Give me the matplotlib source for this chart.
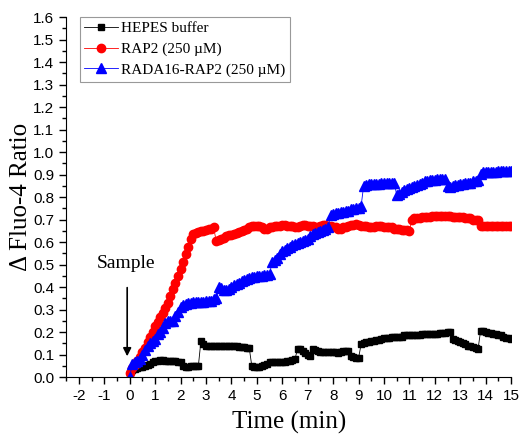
#!/usr/bin/env python
# -*- coding: utf-8 -*-

"""
Fluo-4 ratio time course for HEPES buffer, RAP2 and RADA16-RAP2.
"""

import numpy as np
import matplotlib
matplotlib.use('Agg')
from matplotlib import pyplot as plt

# data (sampled every 0.1 min, 0 - 15 min)
time = np.round(np.arange(0, 151) * 0.1, 1)

hepes = [
    0.02, 0.03, 0.035, 0.04, 0.045, 0.045, 0.05, 0.055, 0.06, 0.065,
    0.07, 0.07, 0.075, 0.075, 0.07, 0.07, 0.07, 0.07, 0.07, 0.065,
    0.065, 0.05, 0.045, 0.045, 0.05, 0.05, 0.05, 0.05, 0.16, 0.145,
    0.14, 0.14, 0.14, 0.14, 0.14, 0.14, 0.14, 0.14, 0.14, 0.14,
    0.14, 0.14, 0.14, 0.135, 0.135, 0.135, 0.13, 0.13, 0.05, 0.045,
    0.045, 0.045, 0.05, 0.055, 0.06, 0.065, 0.065, 0.065, 0.065, 0.065,
    0.065, 0.065, 0.07, 0.07, 0.075, 0.08, 0.125, 0.125, 0.115, 0.105,
    0.1, 0.095, 0.125, 0.12, 0.115, 0.11, 0.11, 0.11, 0.11, 0.11,
    0.11, 0.11, 0.105, 0.11, 0.115, 0.115, 0.115, 0.095, 0.09, 0.085,
    0.085, 0.145, 0.15, 0.155, 0.155, 0.16, 0.16, 0.165, 0.165, 0.17,
    0.175, 0.175, 0.175, 0.18, 0.18, 0.18, 0.18, 0.18, 0.185, 0.185,
    0.185, 0.185, 0.185, 0.185, 0.185, 0.19, 0.19, 0.19, 0.19, 0.19,
    0.19, 0.19, 0.195, 0.195, 0.195, 0.2, 0.2, 0.17, 0.165, 0.16,
    0.155, 0.15, 0.145, 0.14, 0.14, 0.135, 0.13, 0.125, 0.205, 0.205,
    0.2, 0.195, 0.195, 0.19, 0.19, 0.185, 0.185, 0.18, 0.175, 0.175,
    0.17]

rap2 = [
    0.02, 0.04, 0.055, 0.07, 0.09, 0.11, 0.13, 0.155, 0.18, 0.2,
    0.225, 0.245, 0.265, 0.285, 0.305, 0.33, 0.36, 0.39, 0.42, 0.45,
    0.48, 0.51, 0.545, 0.58, 0.615, 0.635, 0.64, 0.645, 0.65, 0.65,
    0.655, 0.66, 0.66, 0.665, 0.605, 0.61, 0.615, 0.62, 0.625, 0.63,
    0.63, 0.635, 0.64, 0.645, 0.65, 0.655, 0.66, 0.665, 0.67, 0.67,
    0.67, 0.67, 0.665, 0.66, 0.66, 0.665, 0.665, 0.67, 0.67, 0.67,
    0.675, 0.675, 0.67, 0.67, 0.67, 0.665, 0.665, 0.67, 0.675, 0.675,
    0.67, 0.67, 0.67, 0.665, 0.665, 0.67, 0.675, 0.675, 0.67, 0.67,
    0.665, 0.665, 0.66, 0.66, 0.665, 0.665, 0.67, 0.675, 0.675, 0.68,
    0.675, 0.67, 0.67, 0.67, 0.665, 0.665, 0.665, 0.67, 0.67, 0.67,
    0.665, 0.665, 0.665, 0.665, 0.66, 0.66, 0.66, 0.655, 0.655, 0.655,
    0.65, 0.7, 0.705, 0.705, 0.705, 0.71, 0.71, 0.71, 0.71, 0.715,
    0.715, 0.715, 0.715, 0.715, 0.715, 0.715, 0.715, 0.71, 0.71, 0.71,
    0.71, 0.71, 0.705, 0.705, 0.705, 0.7, 0.7, 0.7, 0.67, 0.67,
    0.67, 0.67, 0.67, 0.67, 0.67, 0.67, 0.67, 0.67, 0.67, 0.67,
    0.67]

rada16_rap2 = [
    0.0, 0.06, 0.065, 0.07, 0.08, 0.1, 0.12, 0.14, 0.15, 0.16,
    0.17, 0.19, 0.2, 0.22, 0.24, 0.25, 0.25, 0.25, 0.27, 0.29,
    0.31, 0.32, 0.325, 0.33, 0.33, 0.335, 0.335, 0.335, 0.335, 0.335,
    0.34, 0.34, 0.34, 0.345, 0.35, 0.4, 0.395, 0.385, 0.385, 0.39,
    0.4, 0.41, 0.415, 0.42, 0.425, 0.43, 0.435, 0.44, 0.445, 0.445,
    0.45, 0.45, 0.45, 0.455, 0.455, 0.46, 0.51, 0.52, 0.53, 0.545,
    0.56, 0.565, 0.575, 0.58, 0.585, 0.59, 0.595, 0.6, 0.605, 0.61,
    0.615, 0.625, 0.635, 0.64, 0.645, 0.65, 0.655, 0.66, 0.665, 0.72,
    0.725, 0.73, 0.73, 0.735, 0.735, 0.74, 0.74, 0.745, 0.745, 0.75,
    0.75, 0.76, 0.85, 0.855, 0.86, 0.86, 0.86, 0.86, 0.86, 0.865,
    0.865, 0.865, 0.865, 0.865, 0.865, 0.81, 0.815, 0.825, 0.83, 0.835,
    0.84, 0.845, 0.85, 0.855, 0.86, 0.865, 0.87, 0.87, 0.875, 0.875,
    0.875, 0.88, 0.88, 0.88, 0.88, 0.85, 0.845, 0.85, 0.855, 0.855,
    0.86, 0.86, 0.865, 0.865, 0.865, 0.87, 0.87, 0.875, 0.905, 0.91,
    0.91, 0.91, 0.91, 0.91, 0.91, 0.915, 0.915, 0.915, 0.915, 0.915,
    0.915]

labels = ['HEPES buffer', 'RAP2 (250 \u00b5M)', 'RADA16-RAP2 (250 \u00b5M)']

serif = ['Liberation Serif', 'DejaVu Serif']
sans = ['Liberation Sans', 'DejaVu Sans']


def main():
    plt.rcParams['axes.unicode_minus'] = False
    fig = plt.figure(figsize=(5.21, 4.41), dpi=100)
    ax = fig.add_axes((0.127, 0.145, 0.854, 0.816))

    ax.plot(time, hepes, color='black', marker='s', markersize=5,
            linewidth=0.6, label=labels[0])
    ax.plot(time, rap2, color='red', marker='o', markersize=6,
            linewidth=0.6, label=labels[1])
    ax.plot(time, rada16_rap2, color='blue', marker='^', markersize=6.5,
            linewidth=0.6, label=labels[2])

    ax.set_xlim(-2.5, 15)
    ax.set_ylim(0, 1.6)
    ax.set_xticks(np.arange(-2, 16, 1))
    ax.set_xticks(np.arange(-2.5, 15.01, 0.5), minor=True)
    ax.set_yticks(np.round(np.arange(0, 1.61, 0.1), 1))
    ax.set_yticks(np.arange(0, 1.61, 0.05), minor=True)
    ax.yaxis.set_major_formatter(plt.FormatStrFormatter('%.1f'))
    ax.spines['top'].set_visible(False)
    ax.spines['right'].set_visible(False)
    ax.tick_params(which='major', direction='out', length=5, width=1)
    ax.tick_params(which='minor', direction='out', length=3, width=1)
    for lab in ax.get_xticklabels() + ax.get_yticklabels():
        lab.set_family(sans)
        lab.set_fontsize(11)

    ax.set_xlabel('Time (min)', family=serif, fontsize=18, labelpad=6)
    ax.set_ylabel('\u0394 Fluo-4 Ratio', family=serif, fontsize=18,
                  labelpad=1)

    ax.annotate('', xy=(-0.1, 0.08), xytext=(-0.1, 0.41),
                arrowprops=dict(arrowstyle='-|>', color='black', lw=1.2,
                                mutation_scale=12))
    ax.text(-0.15, 0.505, 'Sample', family=serif, fontsize=14,
            ha='center', va='center')

    leg = ax.legend(loc='upper left', bbox_to_anchor=(0.03, 1.0),
                    prop={'family': serif, 'size': 11}, fancybox=False,
                    handlelength=2.2, borderaxespad=0, labelspacing=0.45,
                    borderpad=0.3, handletextpad=0.2)
    leg.get_frame().set_edgecolor('gray')
    leg.get_frame().set_linewidth(0.8)

    fig.savefig('out.png', dpi=100)


if __name__ == '__main__':
    main()
